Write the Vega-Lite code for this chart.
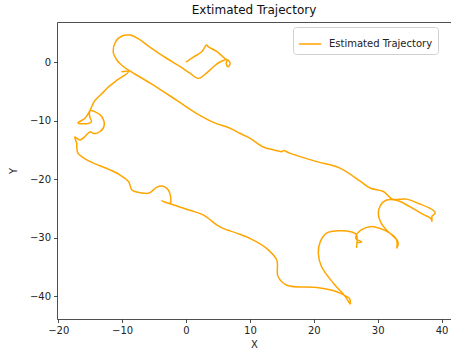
{
  "$schema": "https://vega.github.io/schema/vega-lite/v6.json",
  "width": 394,
  "height": 297,
  "autosize": "none",
  "padding": {"left": 57, "top": 22, "right": 0, "bottom": 33},
  "background": "white",
  "config": {
    "view": {"stroke": null},
    "font": "DejaVu Sans",
    "axis": {
      "labelFont": "DejaVu Sans", "labelFontSize": 10, "labelColor": "#222",
      "titleFont": "DejaVu Sans", "titleFontSize": 10, "titleFontWeight": "normal", "titleColor": "#222",
      "domainColor": "#222", "domainWidth": 0.8, "tickColor": "#222", "tickWidth": 0.8, "tickSize": 3.5,
      "labelPadding": 3, "grid": false
    }
  },
  "title": {"text": "Extimated Trajectory", "font": "DejaVu Sans", "fontSize": 12, "fontWeight": "normal", "color": "#111", "offset": 5},
  "data": {"values": [
    {"i":0,"x":0,"y":0},{"i":1,"x":1.1,"y":0.8},{"i":2,"x":2.5,"y":1.8},{"i":3,"x":3.2,"y":2.9},{"i":4,"x":3.5,"y":2.6},
    {"i":5,"x":4.8,"y":1.8},{"i":6,"x":6.1,"y":0.6},{"i":7,"x":6.6,"y":0.3},{"i":8,"x":6.9,"y":-0.2},{"i":9,"x":6.6,"y":-0.8},
    {"i":10,"x":6.3,"y":-0.3},{"i":11,"x":6.4,"y":0.4},{"i":12,"x":5.3,"y":0.0},{"i":13,"x":4.3,"y":-0.8},{"i":14,"x":3.2,"y":-1.9},
    {"i":15,"x":1.9,"y":-2.8},{"i":16,"x":0.6,"y":-1.9},{"i":17,"x":-0.9,"y":-0.8},{"i":18,"x":-3.0,"y":0.6},{"i":19,"x":-5.6,"y":2.5},
    {"i":20,"x":-7.5,"y":4.0},{"i":21,"x":-8.8,"y":4.6},{"i":22,"x":-10.1,"y":4.4},{"i":23,"x":-11.0,"y":3.5},{"i":24,"x":-11.4,"y":1.8},
    {"i":25,"x":-10.8,"y":0.3},{"i":26,"x":-10.1,"y":-0.5},{"i":27,"x":-9.0,"y":-1.4},{"i":28,"x":-5.6,"y":-3.6},{"i":29,"x":-1.5,"y":-6.5},
    {"i":30,"x":1.7,"y":-8.8},{"i":31,"x":4.3,"y":-10.3},{"i":32,"x":6.9,"y":-11.3},{"i":33,"x":8.5,"y":-12.2},{"i":34,"x":10.0,"y":-13.0},
    {"i":35,"x":12.1,"y":-14.5},{"i":36,"x":13.7,"y":-15.0},{"i":37,"x":15.0,"y":-15.3},{"i":38,"x":15.3,"y":-15.1},{"i":39,"x":16.3,"y":-15.6},
    {"i":40,"x":20.5,"y":-17.0},{"i":41,"x":24.1,"y":-18.1},{"i":42,"x":27.2,"y":-20.3},{"i":43,"x":28.8,"y":-21.5},{"i":44,"x":30.9,"y":-22.1},
    {"i":45,"x":32.3,"y":-23.4},{"i":46,"x":34.5,"y":-23.4},{"i":47,"x":36.3,"y":-24.1},{"i":48,"x":38.7,"y":-25.3},{"i":49,"x":39.0,"y":-25.8},
    {"i":50,"x":38.5,"y":-26.3},{"i":51,"x":38.5,"y":-27.2},{"i":52,"x":38.3,"y":-26.7},{"i":53,"x":37.1,"y":-26.0},{"i":54,"x":33.5,"y":-23.8},
    {"i":55,"x":32.4,"y":-23.5},{"i":56,"x":31.3,"y":-23.6},{"i":57,"x":30.4,"y":-24.5},{"i":58,"x":30.1,"y":-26.0},{"i":59,"x":30.5,"y":-27.4},
    {"i":60,"x":31.4,"y":-28.7},{"i":61,"x":32.5,"y":-29.8},{"i":62,"x":33.0,"y":-30.5},{"i":63,"x":33.0,"y":-31.8},{"i":64,"x":33.2,"y":-30.8},
    {"i":65,"x":32.7,"y":-29.9},{"i":66,"x":31.9,"y":-29.2},{"i":67,"x":30.4,"y":-28.4},{"i":68,"x":28.8,"y":-28.1},{"i":69,"x":27.5,"y":-28.6},
    {"i":70,"x":26.7,"y":-29.4},{"i":71,"x":26.6,"y":-30.2},{"i":72,"x":27.5,"y":-30.7},{"i":73,"x":26.8,"y":-30.9},{"i":74,"x":26.7,"y":-31.6},
    {"i":75,"x":26.7,"y":-29.5},{"i":76,"x":25.9,"y":-29.0},{"i":77,"x":24.1,"y":-28.8},{"i":78,"x":22.0,"y":-29.2},{"i":79,"x":21.0,"y":-30.7},
    {"i":80,"x":20.7,"y":-32.6},{"i":81,"x":21.2,"y":-34.9},{"i":82,"x":23.1,"y":-37.8},{"i":83,"x":24.9,"y":-40.0},{"i":84,"x":25.7,"y":-41.3},
    {"i":85,"x":25.6,"y":-40.4},{"i":86,"x":25.1,"y":-40.0},{"i":87,"x":23.6,"y":-39.2},{"i":88,"x":20.5,"y":-38.5},{"i":89,"x":15.8,"y":-38.1},
    {"i":90,"x":14.4,"y":-36.6},{"i":91,"x":14.2,"y":-33.8},{"i":92,"x":12.6,"y":-31.8},{"i":93,"x":10.0,"y":-30.1},{"i":94,"x":7.9,"y":-29.2},
    {"i":95,"x":5.8,"y":-28.4},{"i":96,"x":4.8,"y":-27.8},{"i":97,"x":2.7,"y":-26.1},{"i":98,"x":0.6,"y":-25.3},{"i":99,"x":-2.5,"y":-24.2},
    {"i":100,"x":-3.8,"y":-23.7},{"i":101,"x":-2.5,"y":-24.1},{"i":102,"x":-2.4,"y":-23.0},{"i":103,"x":-2.8,"y":-21.8},{"i":104,"x":-3.6,"y":-21.2},
    {"i":105,"x":-4.6,"y":-21.4},{"i":106,"x":-5.4,"y":-22.1},{"i":107,"x":-5.9,"y":-22.4},{"i":108,"x":-8.0,"y":-22.1},{"i":109,"x":-8.5,"y":-21.8},
    {"i":110,"x":-9.0,"y":-20.4},{"i":111,"x":-10.3,"y":-19.3},{"i":112,"x":-11.9,"y":-18.4},{"i":113,"x":-15.0,"y":-17.0},{"i":114,"x":-16.1,"y":-16.3},
    {"i":115,"x":-16.9,"y":-15.6},{"i":116,"x":-17.1,"y":-14.5},{"i":117,"x":-17.1,"y":-13.9},{"i":118,"x":-17.4,"y":-12.8},{"i":119,"x":-16.6,"y":-13.3},
    {"i":120,"x":-15.8,"y":-12.7},{"i":121,"x":-15.0,"y":-11.9},{"i":122,"x":-14.5,"y":-12.2},{"i":123,"x":-13.5,"y":-11.9},{"i":124,"x":-12.8,"y":-10.8},
    {"i":125,"x":-13.2,"y":-9.3},{"i":126,"x":-14.2,"y":-8.5},{"i":127,"x":-15.0,"y":-8.3},{"i":128,"x":-15.1,"y":-9.2},{"i":129,"x":-14.8,"y":-10.2},
    {"i":130,"x":-15.3,"y":-10.5},{"i":131,"x":-16.9,"y":-10.4},{"i":132,"x":-15.8,"y":-9.6},{"i":133,"x":-15.0,"y":-8.2},{"i":134,"x":-14.5,"y":-7.0},
    {"i":135,"x":-14.2,"y":-6.5},{"i":136,"x":-12.9,"y":-5.1},{"i":137,"x":-12.2,"y":-4.3},{"i":138,"x":-10.8,"y":-3.1},{"i":139,"x":-9.0,"y":-1.65},
    {"i":140,"x":-10.1,"y":-1.65}
  ]},
  "layer": [
    {
      "mark": {"type": "line", "strokeWidth": 1.5, "strokeJoin": "round", "interpolate": "catmull-rom", "clip": true},
      "encoding": {
        "x": {"field": "x", "type": "quantitative", "scale": {"domain": [-20.19, 41.47], "nice": false, "zero": false},
              "axis": {"orient": "bottom", "values": [-20, -10, 0, 10, 20, 30, 40], "title": "X", "titlePadding": 4}},
        "y": {"field": "y", "type": "quantitative", "scale": {"domain": [-43.86, 6.83], "nice": false, "zero": false},
              "axis": {"values": [-40, -30, -20, -10, 0], "title": "Y", "titlePadding": 11}},
        "order": {"field": "i", "type": "quantitative"},
        "color": {"datum": "Estimated Trajectory", "type": "nominal",
                  "scale": {"domain": ["Estimated Trajectory"], "range": ["#FFA500"]},
                  "legend": {"title": null, "orient": "none", "legendX": 236, "legendY": 5,
                             "symbolType": "stroke", "symbolSize": 500, "symbolStrokeWidth": 1.5,
                             "labelFont": "DejaVu Sans", "labelFontSize": 10, "labelColor": "#222", "labelOffset": 7,
                             "strokeColor": "#d0d0d0", "fillColor": "white", "cornerRadius": 3, "padding": 5}}
      }
    },
    {
      "mark": {"type": "line", "opacity": 0},
      "encoding": {
        "x": {"field": "x", "type": "quantitative",
              "axis": {"orient": "top", "labels": false, "ticks": false, "title": null}},
        "order": {"field": "i", "type": "quantitative"}
      }
    }
  ],
  "resolve": {"axis": {"x": "independent"}}
}
